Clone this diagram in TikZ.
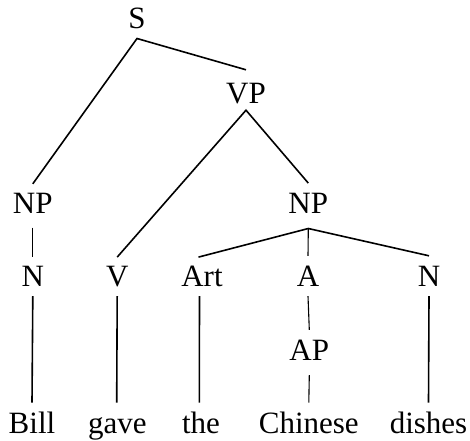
\documentclass[tikz,border=0pt]{standalone}
\usepackage{fontspec}
\setmainfont{Liberation Serif}
\newfontfamily\treefont{Liberation Serif}
\begin{document}
\begin{tikzpicture}[x=1pt,y=1pt]
\tikzset{
  lbl/.style={inner sep=0pt, anchor=base, font=\treefont\fontsize{31}{36}\selectfont},
  br/.style={line width=1.6pt},
  thinbr/.style={line width=1.1pt}}
\useasboundingbox (0,0) rectangle (470,440);
% phrase level
\node[lbl, text height=20pt, text depth=9.3pt] (S) at (137,411) {S};
\node[lbl, text height=33pt, text depth=7pt] (VP) at (246,337) {VP};
\node[lbl, text height=29pt, text depth=14.3pt] (NP1) at (32.8,227) {NP};
\node[lbl, text height=29.7pt, text depth=15.3pt] (NP2) at (308.3,227) {NP};
% category row
\node[lbl, text height=30pt, text depth=9.3pt] (N1) at (32.8,153.3) {N};
\node[lbl, text height=29.4pt, text depth=9.3pt] (V) at (117.2,153.3) {V};
\node[lbl, text height=29.4pt, text depth=9.3pt] (Art) at (202,153.3) {Art};
\node[lbl, text height=30.7pt, text depth=9.3pt] (A) at (308,153.3) {A};
\node[lbl, text height=30.7pt, text depth=9.3pt] (N2) at (429,153.3) {N};
\node[lbl, text height=30pt, text depth=15pt] (AP) at (309.3,80) {AP};
% words
\node[lbl, text height=30.6pt, text depth=0pt] (w1) at (32,6.7) {Bill};
\node[lbl, text height=30.6pt, text depth=0pt] (w2) at (117.3,6.7) {gave};
\node[lbl, text height=30.6pt, text depth=0pt] (w3) at (201,6.7) {the};
\node[lbl, text height=30.6pt, text depth=0pt] (w4) at (308.8,6.7) {Chinese};
\node[lbl, text height=30.6pt, text depth=0pt] (w5) at (428.5,6.7) {dishes};
% branches
\draw[br] (NP1.north) -- (S.south) -- (VP.north);
\draw[br] (V.north) -- (VP.south) -- (NP2.north);
\draw[br] ([xshift=-3.5pt]Art.north) -- (NP2.south) -- (N2.north);
\draw[thinbr] (NP2.south) -- (A.north);
\draw[thinbr] (NP1.south) -- (N1.north);
\draw[thinbr] (A.south) -- (AP.north);
\draw[thinbr] (AP.south) -- (w4.north);
\draw[br] (N1.south) -- (w1.north);
\draw[br] (V.south) -- ([xshift=-0.6pt]w2.north);
\draw[br] ([xshift=-2.5pt]Art.south) -- ([xshift=-1.7pt]w3.north);
\draw[br] (N2.south) -- (w5.north);
\end{tikzpicture}
\end{document}
